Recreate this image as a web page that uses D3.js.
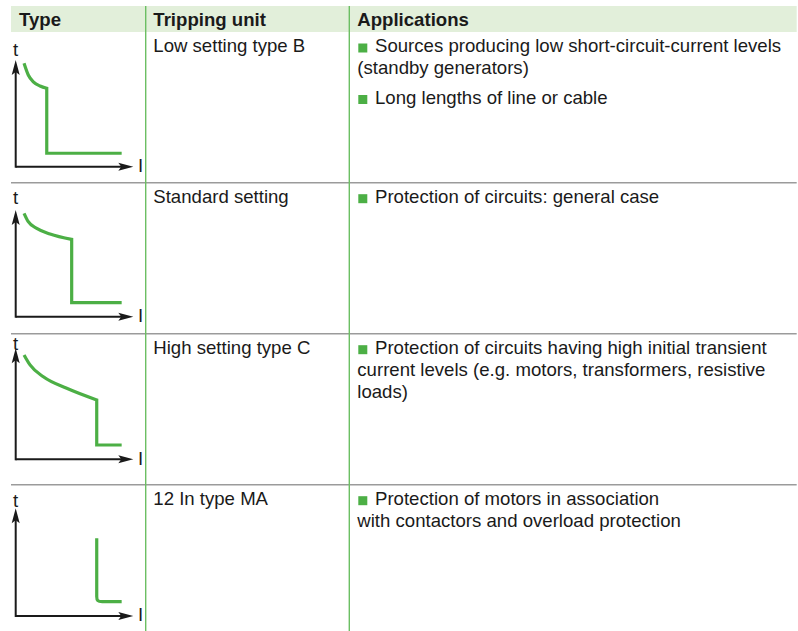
<!DOCTYPE html>
<html>
<head>
<meta charset="utf-8">
<script src="https://cdn.jsdelivr.net/npm/d3@7"></script>
<style>
  html, body { margin: 0; padding: 0; background: #ffffff; }
  svg { display: block; }
  text { font-family: "Liberation Sans", Arial, Helvetica, sans-serif; fill: #1a1a1a; }
</style>
</head>
<body>
<svg id="chart" width="798" height="631"></svg>
<script>
// ---------------- DATA ----------------
const headers = ["Type", "Tripping unit", "Applications"];

const trippingUnits = [
  "Low setting type B",
  "Standard setting",
  "High setting type C",
  "12 In type MA"
];

// Applications: each row = list of bullet paragraphs, each paragraph = list of wrapped lines
const applications = [
  [["Sources producing low short-circuit-current levels", "(standby generators)"],
   ["Long lengths of line or cable"]],
  [["Protection of circuits: general case"]],
  [["Protection of circuits having high initial transient", "current levels (e.g. motors, transformers, resistive", "loads)"]],
  [["Protection of motors in association", "with contactors and overload protection"]]
];

const axisLabels = { t: "t", I: "I" };

// Tripping curves, in relative units (current I: 0..10, time t: 0..10)
// each row: list of segments {curve, pts:[[I,t],...]}
const curveB = [
  { curve: "smooth", pts: [[0.71, 9.69], [1.07, 8.59], [1.50, 7.96], [2.07, 7.56], [2.64, 7.35]] },
  { curve: "linear", pts: [[2.64, 7.35], [2.64, 1.26], [9.01, 1.26]] }
];
const curveStd = [
  { curve: "smooth", pts: [[0.71, 9.69], [1.07, 8.90], [1.79, 8.28], [2.92, 7.75], [4.76, 7.25]] },
  { curve: "linear", pts: [[4.76, 7.25], [4.76, 1.31], [9.01, 1.31]] }
];
const curveC = [
  { curve: "smooth", pts: [[0.71, 9.40], [1.22, 8.50], [2.35, 7.44], [4.34, 6.40], [6.89, 5.35]] },
  { curve: "linear", pts: [[6.89, 5.35], [6.89, 1.29], [9.01, 1.29]] }
];
const curveMA = [
  { curve: "linear", pts: [[6.89, 7.21], [6.89, 1.90]] },
  { curve: "basis",  pts: [[6.89, 1.90], [6.89, 1.33], [7.45, 1.33]] },
  { curve: "linear", pts: [[7.45, 1.33], [9.01, 1.33]] }
];
const curves = [curveB, curveStd, curveC, curveMA];

// ---------------- LAYOUT / STYLE ----------------
const W = 798, H = 631;
const tableLeft = 11, tableRight = 796.7;
const colX = [tableLeft, 145.7, 349.3];
const headerTop = 6, headerBottom = 32;
const rowTops = [32, 182.7, 333.7, 484.7];
const fontSize = 18.6;
const lineH = 22;
const paraGap = 7.5;
const baselineOffset = 20.2;

const green = "#4caf45";
const dividerGreen = "#6cbf63";
const headerBg = "#e2efda";
const gridGray = "#9b9b9b";
const axisColor = "#1a1a1a";

// mini chart frames (pixel geometry per row)
const frames = [
  { x0: 15.7, xTip: 133.3, y0: 166.7, yTip: 60.0,  tBase: 56.0 },
  { x0: 15.7, xTip: 133.3, y0: 316.7, yTip: 210.0, tBase: 204.3 },
  { x0: 15.7, xTip: 133.3, y0: 459.3, yTip: 348.3, tBase: 350.0 },
  { x0: 15.7, xTip: 133.3, y0: 616.0, yTip: 508.3, tBase: 506.7 }
];

const svg = d3.select("#chart");

// header background
svg.append("rect")
  .attr("x", tableLeft).attr("y", headerTop)
  .attr("width", tableRight - tableLeft).attr("height", headerBottom - headerTop)
  .attr("fill", headerBg);

// row separators (rows 2..4)
rowTops.slice(1).forEach(y => {
  svg.append("line")
    .attr("x1", tableLeft).attr("x2", tableRight)
    .attr("y1", y).attr("y2", y)
    .attr("stroke", gridGray).attr("stroke-width", 1.5);
});

// vertical dividers
colX.slice(1).forEach(x => {
  svg.append("line")
    .attr("x1", x).attr("x2", x)
    .attr("y1", headerTop).attr("y2", H)
    .attr("stroke", dividerGreen).attr("stroke-width", 1.4);
});

// header text
const headerTextX = [19, 153.3, 357.3];
headers.forEach((h, i) => {
  svg.append("text")
    .attr("x", headerTextX[i]).attr("y", 26)
    .attr("font-size", fontSize).attr("font-weight", "bold")
    .text(h);
});

// tripping unit text
trippingUnits.forEach((t, i) => {
  svg.append("text")
    .attr("x", 153.3).attr("y", rowTops[i] + baselineOffset)
    .attr("font-size", fontSize)
    .text(t);
});

// applications text
const appX = 357.3, bulletSize = 9, bulletTextX = 375;
applications.forEach((paras, r) => {
  let y = rowTops[r] + baselineOffset;
  paras.forEach((lines, p) => {
    if (p > 0) y += paraGap;
    lines.forEach((ln, li) => {
      if (li === 0) {
        svg.append("rect")
          .attr("x", appX + 1).attr("y", y - 8.7)
          .attr("width", bulletSize).attr("height", bulletSize)
          .attr("fill", green);
      }
      svg.append("text")
        .attr("x", li === 0 ? bulletTextX : appX)
        .attr("y", y)
        .attr("font-size", fontSize)
        .text(ln);
      y += lineH;
    });
  });
});

// mini charts
const curveTypes = { smooth: d3.curveMonotoneX, linear: d3.curveLinear, basis: d3.curveBasis };

curves.forEach((segs, r) => {
  const f = frames[r];
  const x = d3.scaleLinear().domain([0, 10]).range([f.x0, f.xTip]);
  const y = d3.scaleLinear().domain([0, 10]).range([f.y0, f.yTip]);
  const g = svg.append("g");

  // axes lines
  g.append("line")
    .attr("x1", x(0)).attr("x2", x(10) - 10)
    .attr("y1", y(0)).attr("y2", y(0))
    .attr("stroke", axisColor).attr("stroke-width", 2);
  g.append("line")
    .attr("x1", x(0)).attr("x2", x(0))
    .attr("y1", y(0) + 1).attr("y2", y(10) + 10)
    .attr("stroke", axisColor).attr("stroke-width", 2);

  // arrowheads
  const ax = x(10), ay = y(0);
  g.append("path")
    .attr("d", `M${ax},${ay} L${ax - 15},${ay - 4} L${ax - 12},${ay} L${ax - 15},${ay + 4} Z`)
    .attr("fill", axisColor);
  const vx = x(0), vy = y(10);
  g.append("path")
    .attr("d", `M${vx},${vy} L${vx - 4},${vy + 15} L${vx},${vy + 12} L${vx + 4},${vy + 15} Z`)
    .attr("fill", axisColor);

  // axis labels
  g.append("text")
    .attr("x", x(0)).attr("y", f.tBase)
    .attr("text-anchor", "middle")
    .attr("font-size", fontSize)
    .text(axisLabels.t);
  g.append("text")
    .attr("x", x(10) + 7.3).attr("y", y(0) + 5.2)
    .attr("text-anchor", "middle")
    .attr("font-size", fontSize)
    .text(axisLabels.I);

  // curve: concatenate segments into a single path
  let d = "";
  segs.forEach((s, i) => {
    const gen = d3.line().x(p => x(p[0])).y(p => y(p[1])).curve(curveTypes[s.curve]);
    let part = gen(s.pts);
    if (i > 0) part = part.replace(/^M/, "L");
    d += part;
  });
  g.append("path")
    .attr("d", d)
    .attr("fill", "none")
    .attr("stroke", green)
    .attr("stroke-width", 3.2)
    .attr("stroke-linejoin", "miter")
    .attr("stroke-linecap", "butt");
});
</script>
</body>
</html>
